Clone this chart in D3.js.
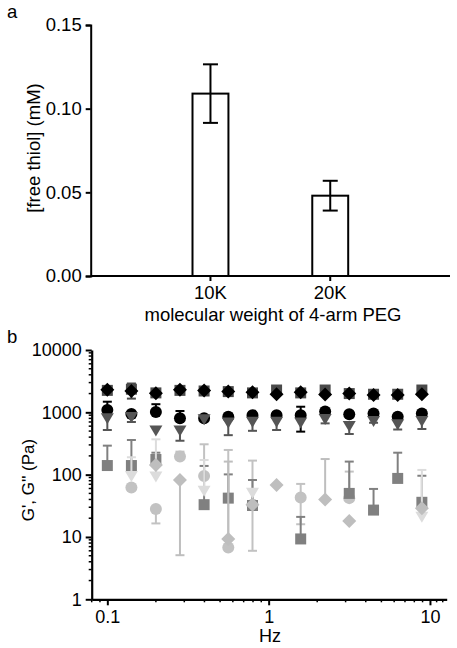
<!DOCTYPE html>
<html><head><meta charset="utf-8">
<script src="https://cdn.jsdelivr.net/npm/d3@7"></script>
<style>
html,body{margin:0;padding:0;background:#fff;}
svg{display:block;font-family:"Liberation Sans",Arial,sans-serif;}
</style></head>
<body>
<svg id="c" width="457" height="648"></svg>
<script>
// ---------- Panel a data ----------
const categories = ["10K", "20K"];
const thiolMean = [0.109, 0.048];
const thiolErr = [0.0175, 0.0089];
const thiolTicks = [0, 0.05, 0.10, 0.15];

// ---------- Panel b data ----------
const freqHz = [0.1, 0.141, 0.2, 0.282, 0.398, 0.562, 0.794, 1.12, 1.58, 2.24, 3.16, 4.47, 6.31, 8.91];
const modTicks = [1, 10, 100, 1000, 10000];
const hzTicks = [0.1, 1, 10];

// G' (storage) series
const gpCircle   = [1090, 940, 1010, 800, 800, 850, 900, 900, 900, 1030, 930, 960, 850, 960];
const gpCircleHi = [1480, null, 1350, 1050, null, 950, null, null, 1230, 1060, null, null, null, 1000];
const gpCircleLo = [null, null, null, null, null, null, null, null, 490, null, null, null, null, null];
const gpSquare   = [2250, 2350, 2050, 2250, 2200, 2150, 2050, 2280, 2050, 2280, 2000, 1950, 1950, 2280];
const gpSquareHi = [null, 2900, null, null, null, null, null, null, null, null, null, null, null, null];
const gpSquareLo = [null, 1660, null, null, null, null, null, null, null, null, null, null, null, null];
const gpTri      = [830, 870, 530, 530, 800, 710, 735, 735, 710, 810, 626, 754, 665, 754];
const gpTriHi    = [null, null, null, null, null, null, null, null, null, null, null, null, null, null];
const gpTriLo    = [520, 700, null, 350, null, 430, 505, 520, null, 665, 449, 680, 530, 540];
const gpDiamond  = [2300, 2200, 2020, 2300, 2250, 2150, 2100, 1950, 2100, 1940, 2000, 1900, 1900, 1950];

// G'' (loss) series
const gppSquare   = [140, 140, 175, null, 33, 42, 32, null, 9.3, null, 50, 27, 87, 36];
const gppSquareHi = [292, 360, 225, null, 138, 101, 82, null, 21, null, 162, 59, 225, 96];
const gppCircle   = [null, 62, 28, 195, 95, 6.8, 33, null, 43, null, 42, null, null, null];
const gppCircleHi = [null, null, null, 234, 307, 249, 168, null, 71, null, 112, null, null, null];
const gppCircleLo = [null, null, 16.5, null, null, null, 6, null, 16, null, null, null, null, null];
const gppTri      = [null, 99, 97, null, 57, null, 53, null, null, null, null, null, null, 22];
const gppTriHi    = [null, 190, 369, null, 172, null, null, null, null, null, null, null, null, 119];
const gppDiamond  = [null, null, 143, 82, null, 9.3, 33, 68, null, 40, 18, null, null, 29];
const gppDiamondHi= [null, null, null, null, null, 162, null, null, null, 178, null, null, null, null];
const gppDiamondLo= [null, null, null, 5.1, null, null, null, null, null, null, null, null, null, null];

const svg = d3.select("#c");
const FS = 18.5;

// ================= Panel a =================
const ax = d3.scaleBand().domain(categories).range([90.7, 450]).paddingInner(0.7).paddingOuter(0.85);
const ay = d3.scaleLinear().domain([0, 0.15]).range([276, 25]);
const ga = svg.append("g");

ga.append("text").attr("x", 7).attr("y", 18).attr("font-size", FS).text("a");

// bars
ga.selectAll("rect.bar").data(categories).join("rect")
  .attr("x", d => ax(d)).attr("y", (d, i) => ay(thiolMean[i]))
  .attr("width", ax.bandwidth()).attr("height", (d, i) => ay(0) - ay(thiolMean[i]))
  .attr("fill", "#fff").attr("stroke", "#000").attr("stroke-width", 2);

// error bars
categories.forEach((c, i) => {
  const cx = ax(c) + ax.bandwidth() / 2;
  const yHi = ay(thiolMean[i] + thiolErr[i]), yLo = ay(thiolMean[i] - thiolErr[i]);
  ga.append("line").attr("x1", cx).attr("x2", cx).attr("y1", yHi).attr("y2", yLo).attr("stroke", "#000").attr("stroke-width", 2);
  [yHi, yLo].forEach(yy => ga.append("line").attr("x1", cx - 7.5).attr("x2", cx + 7.5).attr("y1", yy).attr("y2", yy).attr("stroke", "#000").attr("stroke-width", 2));
});

// axes
const yAxA = ga.append("g").attr("transform", "translate(90.7,0)")
  .call(d3.axisLeft(ay).tickValues(thiolTicks).tickFormat(d3.format(".2f")).tickSizeOuter(0).tickSize(5).tickPadding(4));
const xAxA = ga.append("g").attr("transform", "translate(0,276)")
  .call(d3.axisBottom(ax).tickSize(5).tickSizeOuter(0).tickPadding(5));
[yAxA, xAxA].forEach(g => {
  g.selectAll("path.domain").attr("stroke", "#000").attr("stroke-width", 2);
  g.selectAll(".tick line").attr("stroke", "#000").attr("stroke-width", 2);
  g.selectAll("text").attr("font-size", FS).attr("font-family", "Liberation Sans, Arial, sans-serif").attr("fill", "#000");
});
xAxA.select("path.domain").attr("d", "M90.7,0H450");

ga.append("text").attr("x", 273).attr("y", 321).attr("text-anchor", "middle").attr("font-size", FS)
  .text("molecular weight of 4-arm PEG");
ga.append("text").attr("transform", "translate(40,148) rotate(-90)").attr("text-anchor", "middle")
  .attr("font-size", FS).text("[free thiol] (mM)");

// ================= Panel b =================
const bx = d3.scaleLog().domain([0.08, 12.7]).range([91.7, 446.7]);
const by = d3.scaleLog().domain([1, 10000]).range([599.3, 350]);
const gb = svg.append("g");

gb.append("text").attr("x", 7).attr("y", 343).attr("font-size", FS).text("b");

// minor ticks
const yMinor = [];
for (const d of [1, 10, 100, 1000]) for (const m of [2,3,4,5,6,7,8,9]) yMinor.push(d * m);
const xMinor = [0.08, 0.09];
for (const d of [0.1, 1]) for (const m of [2,3,4,5,6,7,8,9]) xMinor.push(d * m);
xMinor.push(11, 12);

gb.selectAll("line.ym").data(yMinor).join("line")
  .attr("x1", 91.7 - 3).attr("x2", 91.7).attr("y1", d => by(d)).attr("y2", d => by(d))
  .attr("stroke", "#000").attr("stroke-width", 1.5);
gb.selectAll("line.xm").data(xMinor).join("line")
  .attr("y1", 599.3).attr("y2", 599.3 + 3).attr("x1", d => bx(d)).attr("x2", d => bx(d))
  .attr("stroke", "#000").attr("stroke-width", 1.5);

const yAxB = gb.append("g").attr("transform", "translate(91.7,0)")
  .call(d3.axisLeft(by).tickValues(modTicks).tickFormat(d3.format("d")).tickSize(6).tickSizeOuter(0).tickPadding(4));
const xAxB = gb.append("g").attr("transform", "translate(0,599.3)")
  .call(d3.axisBottom(bx).tickValues(hzTicks).tickFormat(d => d3.format("~g")(d)).tickSize(6).tickSizeOuter(0).tickPadding(5));
[yAxB, xAxB].forEach(g => {
  g.selectAll("path.domain").attr("stroke", "#000").attr("stroke-width", 2.2);
  g.selectAll(".tick line").attr("stroke", "#000").attr("stroke-width", 2);
  g.selectAll("text").attr("font-size", 18).attr("font-family", "Liberation Sans, Arial, sans-serif").attr("fill", "#000");
});

gb.append("text").attr("x", 270).attr("y", 642).attr("text-anchor", "middle").attr("font-size", 18).text("Hz");
gb.append("text").attr("transform", "translate(33.5,480) rotate(-90)").attr("text-anchor", "middle")
  .attr("font-size", 17).text("G', G'' (Pa)");

// symbol paths
function shapePath(type, cx, cy) {
  if (type === "circle") {
    const r = 6;
    return `M${cx - r},${cy}a${r},${r} 0 1,0 ${2*r},0a${r},${r} 0 1,0 ${-2*r},0Z`;
  }
  if (type === "square") {
    const h = 5.5;
    return `M${cx - h},${cy - h}H${cx + h}V${cy + h}H${cx - h}Z`;
  }
  if (type === "diamond") {
    const h = 7;
    return `M${cx},${cy - h}L${cx + h},${cy}L${cx},${cy + h}L${cx - h},${cy}Z`;
  }
  // inverted triangle
  const w = 6.5, t = 4, b = 7;
  return `M${cx - w},${cy - t}H${cx + w}L${cx},${cy + b}Z`;
}

const layer = gb.append("g");
function drawSeries(vals, hi, lo, type, color) {
  const g = layer.append("g");
  freqHz.forEach((f, i) => {
    const v = vals[i];
    if (v == null) return;
    const cx = bx(f);
    const h = hi ? hi[i] : null, l = lo ? lo[i] : null;
    const top = h != null ? by(h) : by(v), bot = l != null ? by(l) : by(v);
    if (h != null || l != null) {
      g.append("line").attr("x1", cx).attr("x2", cx).attr("y1", top).attr("y2", bot)
        .attr("stroke", color).attr("stroke-width", 2);
      if (h != null) g.append("line").attr("x1", cx - 4.5).attr("x2", cx + 4.5).attr("y1", top).attr("y2", top).attr("stroke", color).attr("stroke-width", 2);
      if (l != null) g.append("line").attr("x1", cx - 4.5).attr("x2", cx + 4.5).attr("y1", bot).attr("y2", bot).attr("stroke", color).attr("stroke-width", 2);
    }
    g.append("path").attr("d", shapePath(type, cx, by(v))).attr("fill", color);
  });
}

// G'' (light) first
drawSeries(gppCircle, gppCircleHi, gppCircleLo, "circle", "#c2c2c2");
drawSeries(gppSquare, gppSquareHi, null, "square", "#808080");
drawSeries(gppTri, gppTriHi, null, "tri", "#dcdcdc");
drawSeries(gppDiamond, gppDiamondHi, gppDiamondLo, "diamond", "#bebebe");
// G' (dark)
drawSeries(gpCircle, gpCircleHi, gpCircleLo, "circle", "#000");
drawSeries(gpSquare, gpSquareHi, gpSquareLo, "square", "#4a4a4a");
drawSeries(gpTri, gpTriHi, gpTriLo, "tri", "#555");
drawSeries(gpDiamond, null, null, "diamond", "#000");
</script>
</body></html>
